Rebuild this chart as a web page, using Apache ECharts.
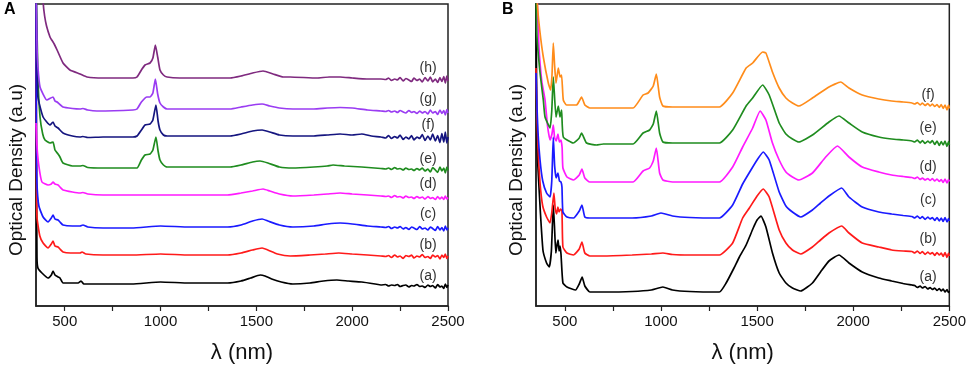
<!DOCTYPE html>
<html><head><meta charset="utf-8">
<script src="https://cdn.jsdelivr.net/npm/echarts@6/dist/echarts.min.js"></script>
<style>html,body{margin:0;padding:0;background:#fff}#c{width:969px;height:377px}</style>
</head><body><div id="c"></div>
<script>
// ---- tick labels ----
const wavelengthTicks = [500, 1000, 1500, 2000, 2500];
const wavelengthMinorTicks = [500, 750, 1000, 1250, 1500, 1750, 2000, 2250, 2500];

// ---- Panel A spectra: [wavelength nm, optical density (a.u., offset stacked)] ----
const A_a = [[350,330],[352,150],[355,49],[360,38],[381,33],[413,28],[430,31],[439,35],[449,31],[465,29],[475,28],[491,23],[540,23],[570,23],[585,25],[600,22],[700,22],[850,22],[1000,24],[1150,23],[1350,23],[1420,25],[1470,28],[1520,31],[1545,30],[1580,27],[1630,24],[1690,22],[1780,23],[1850,25],[1920,26],[1980,25],[2050,24],[2120,22],[2150,21],[2175,21.5],[2190,20],[2205,21],[2222,20.5],[2236,21.5],[2250,19.5],[2266,20.5],[2280,21],[2296,19],[2310,20.5],[2322,20],[2338,21.5],[2352,19.5],[2366,20],[2380,18.5],[2395,21],[2408,19.5],[2420,20.5],[2434,18],[2446,21.5],[2458,19],[2468,20],[2478,17.5],[2486,22],[2494,18.5],[2500,21]];
const A_b = [[350,330],[352,150],[355,89],[370,70],[387,63],[413,58],[430,62],[439,65],[449,60],[465,59],[475,57],[491,54],[530,53],[580,53],[590,54],[610,52],[700,51],[850,51],[1000,52],[1150,51],[1350,51],[1420,53],[1480,56],[1530,58],[1560,56],[1610,52],[1676,50],[1780,51],[1860,52],[1930,53],[2000,52],[2080,51],[2150,50],[2175,49.5],[2190,50.5],[2205,48.5],[2222,51],[2236,49],[2250,50],[2266,47.5],[2280,50.5],[2296,49.5],[2310,51],[2322,48],[2338,50],[2352,49],[2366,51.5],[2380,48.5],[2395,49.5],[2408,47.5],[2420,51],[2434,49],[2446,50.5],[2458,47],[2468,51],[2478,48.5],[2486,52],[2494,47.5],[2500,50]];
const A_c = [[350,330],[352,170],[355,123],[365,100],[387,89],[413,84],[430,88],[439,91],[449,87],[465,86],[475,84],[491,81],[540,80],[580,80],[595,81],[620,79],[700,78],[850,78],[1000,80],[1150,79],[1350,79],[1420,81],[1480,85],[1530,87],[1560,85],[1620,81],[1691,79],[1800,80],[1870,82],[1937,83],[2000,82],[2080,80],[2150,79],[2175,78.5],[2190,79.5],[2205,77.5],[2222,79],[2236,78],[2250,79.5],[2266,77],[2280,78.5],[2296,76.5],[2310,79],[2322,78],[2338,76.5],[2352,79.5],[2366,77],[2380,78],[2395,76],[2408,79],[2420,77.5],[2434,75.5],[2446,79.5],[2458,76],[2468,78.5],[2478,75],[2486,80],[2494,76],[2500,78]];
const A_d = [[350,183],[355,160],[365,140],[381,124],[413,121],[430,122],[439,124],[449,122],[465,121],[475,119],[491,116],[540,114],[580,113],[595,113.5],[620,112],[700,111],[850,111],[1000,111],[1150,111],[1350,111],[1420,113],[1480,115],[1535,117],[1570,115],[1620,112],[1691,110],[1800,111],[1870,112],[1937,113],[2000,112],[2080,111],[2150,110],[2175,109.5],[2190,110],[2205,108.5],[2222,110.5],[2236,109],[2250,109.5],[2266,108],[2280,110],[2296,108.5],[2310,109],[2322,107.5],[2338,109.5],[2352,108],[2366,109],[2380,107],[2395,109.5],[2408,107.5],[2420,108.5],[2434,106.5],[2446,109.5],[2458,107],[2468,109],[2478,106.5],[2486,110],[2494,107],[2500,108.5]];
const A_e = [[350,330],[360,230],[371,189],[385,172],[397,166],[423,163],[439,164],[449,156],[465,152],[475,149],[491,143],[540,140],[580,140],[595,140.5],[620,138.5],[700,138],[877,138],[900,146],[919,151],[945,152],[960,156],[976,169],[987,155],[997,146],[1015,141],[1034,139],[1100,139],[1363,139],[1420,141],[1480,144],[1519,145],[1560,143],[1620,139],[1691,138],[1800,139],[1870,140],[1900,141],[1960,140],[2050,139],[2150,137.5],[2175,137],[2190,138],[2205,136.5],[2222,138.5],[2236,137],[2250,137.5],[2266,136],[2280,138],[2296,136.5],[2310,137],[2322,135.5],[2338,137.5],[2352,136],[2366,138],[2380,135],[2395,137],[2408,134],[2420,138.5],[2434,136],[2446,133.5],[2458,139],[2468,135],[2478,138],[2486,133],[2494,139],[2500,135.5]];
const A_f = [[350,330],[355,250],[360,209],[387,189],[423,181],[439,184],[449,180],[465,178],[491,173],[540,170],[580,169],[595,169.5],[620,168.5],[700,169],[856,169],[877,170],[900,176],[919,181],[945,182],[960,186],[976,201],[987,185],[997,176],[1015,171],[1034,170],[1100,170],[1363,170],[1420,172],[1480,175],[1530,176],[1570,174],[1620,171],[1691,170],[1800,170],[1870,171],[1937,172],[2000,171],[2050,172],[2100,170],[2150,169],[2175,168],[2190,170.5],[2205,167.5],[2222,169.5],[2236,168],[2250,171],[2266,166.5],[2280,169],[2296,167],[2310,170.5],[2322,166],[2338,169],[2352,167.5],[2366,171.5],[2380,165.5],[2395,170],[2408,166],[2420,172],[2434,165],[2446,170.5],[2458,163.5],[2468,172.5],[2478,164],[2486,174],[2494,163],[2500,169]];
const A_g = [[350,330],[355,260],[360,239],[371,219],[407,206],[439,209],[449,205],[460,204],[491,199],[540,197.5],[580,197],[595,197.5],[620,196],[668,195],[856,196],[877,197],[900,204],[929,209],[945,209],[960,213],[973,227],[985,212],[997,203],[1015,199],[1034,197],[1100,197],[1363,197],[1420,199],[1480,201],[1530,202],[1570,200],[1620,198],[1691,197],[1800,197],[1870,198],[1937,198.5],[2000,198],[2080,196],[2150,195],[2175,194.5],[2190,195.5],[2205,194],[2222,195],[2236,193.5],[2250,195.5],[2266,194],[2280,193],[2296,195.5],[2310,193.5],[2322,194.5],[2338,192.5],[2352,195],[2366,193],[2380,194.5],[2395,192],[2408,196],[2420,193],[2434,194.5],[2446,191.5],[2458,196],[2468,192.5],[2478,195.5],[2486,191],[2494,196.5],[2500,193]];
const A_h = [[380,340],[388,302],[395,290],[405,280],[423,269],[432,266],[439,264],[445,262],[460,256],[491,243],[527,236],[580,232],[616,229],[700,228],[856,228],[877,229],[900,236],[919,241],[945,243],[960,248],[973,261],[985,249],[997,236],[1015,231],[1034,229],[1100,228],[1363,228],[1420,230],[1480,233],[1535,235],[1587,232],[1640,229],[1676,229],[1816,228],[1880,229],[1937,229],[2000,228],[2077,227],[2150,227],[2175,226.5],[2190,228],[2205,225.5],[2222,227],[2236,226],[2250,228.5],[2266,225],[2280,227.5],[2296,226],[2310,224.5],[2322,228],[2338,225.5],[2352,227],[2366,224],[2380,228.5],[2395,225],[2408,229],[2420,224],[2434,227],[2446,223.5],[2458,228.5],[2468,224.5],[2478,229.5],[2486,223],[2494,230],[2500,225]];

// ---- Panel B spectra ----
const B_a = [[350,330],[352,250],[355,170],[360,139],[386,56],[405,43],[419,39],[430,55],[440,101],[446,80],[453,53],[460,62],[465,66],[470,55],[475,60],[480,52],[490,23],[511,19],[556,16],[575,22],[590,29],[604,20],[630,14],[700,14],[850,14.5],[950,16],[1010,19],[1060,16],[1150,14.5],[1304,14],[1339,23],[1380,38],[1408,49],[1443,61],[1480,78],[1500,86],[1520,90],[1546,79],[1580,53],[1615,33],[1650,23],[1684,18],[1727,15],[1788,23],[1830,34],[1874,45],[1926,51],[1978,43],[2047,34],[2133,28],[2200,25],[2260,22.5],[2306,21],[2320,20.5],[2334,18.5],[2348,20],[2360,18],[2374,19.5],[2388,17],[2400,18.5],[2412,16.5],[2424,18],[2436,15.5],[2448,17.5],[2458,15],[2468,17],[2478,14],[2488,16.5],[2496,13.5],[2500,15]];
const B_b = [[350,238],[355,190],[360,160],[371,123],[385,100],[405,89],[423,83],[433,95],[443,113],[450,97],[457,92],[464,99],[470,94],[478,97],[485,95],[490,59],[511,53],[545,51],[575,57],[589,64],[604,53],[630,50],[700,50],[850,51],[950,52],[1010,53],[1060,51.5],[1150,51],[1304,51],[1373,63],[1425,88],[1460,98],[1500,110],[1532,117],[1563,109],[1615,76],[1650,63],[1684,56],[1727,52],[1788,59],[1830,66],[1874,73],[1940,80],[1978,73],[2047,63],[2133,59],[2200,56],[2260,55],[2306,54.5],[2320,53],[2334,55],[2348,52.5],[2360,54.5],[2374,51.5],[2388,54],[2400,52],[2412,53.5],[2424,50.5],[2436,53.5],[2448,51],[2458,53],[2468,49.5],[2478,53.5],[2488,48.5],[2496,53],[2500,50]];
const B_c = [[350,233],[355,200],[360,175],[371,146],[385,125],[405,113],[423,109],[432,125],[440,169],[447,140],[455,128],[464,133],[472,125],[480,124],[485,119],[490,94],[511,89],[545,88],[575,95],[589,101],[604,89],[630,88],[700,88],[850,88],[950,90],[1000,93],[1060,90],[1150,88.5],[1304,88],[1373,101],[1425,122],[1468,136],[1500,146],[1532,154],[1563,146],[1615,114],[1650,100],[1684,94],[1727,89],[1788,96],[1830,103],[1874,110],[1940,118],[1978,109],[2047,99],[2133,94],[2200,92],[2260,90.5],[2306,89.5],[2320,88],[2334,90],[2348,87.5],[2360,89.5],[2374,86.5],[2388,89],[2400,87],[2412,88.5],[2424,85.5],[2436,88.5],[2448,85],[2458,88],[2468,84.5],[2478,88.5],[2488,84],[2496,87.5],[2500,85]];
const B_d = [[350,330],[357,302],[365,260],[380,225],[397,206],[410,180],[423,166],[433,172],[440,181],[447,168],[455,165],[464,172],[472,164],[480,166],[486,158],[490,138],[511,129],[545,126],[575,131],[589,137],[604,128],[630,124],[700,124],[855,124],[907,135],[941,138],[960,145],[976,158],[993,133],[1010,126],[1060,124],[1304,124],[1373,139],[1425,159],[1477,178],[1516,195],[1546,186],[1580,163],[1615,146],[1650,134],[1684,129],[1718,126],[1788,133],[1857,149],[1918,160],[1978,149],[2047,139],[2133,134],[2200,131],[2260,129.5],[2306,128.5],[2320,127.5],[2334,129],[2348,126.5],[2360,128],[2374,126],[2388,127.5],[2400,125.5],[2412,127.5],[2424,125],[2436,127],[2448,124.5],[2458,126.5],[2468,123.5],[2478,127],[2488,123],[2496,126.5],[2500,124.5]];
const B_e = [[350,330],[354,273],[370,235],[388,206],[397,189],[423,178],[432,195],[440,229],[454,189],[466,200],[475,189],[483,196],[492,169],[544,163],[575,168],[587,173],[613,163],[665,161],[700,162],[855,162],[907,173],[941,176],[960,182],[976,195],[993,173],[1010,164],[1060,163],[1304,163],[1373,176],[1443,200],[1477,208],[1529,221],[1563,211],[1615,183],[1650,172],[1684,167],[1718,164],[1788,171],[1874,184],[1926,190],[1978,183],[2047,174],[2133,169],[2200,167],[2260,166],[2306,165],[2320,164],[2334,166],[2348,163],[2360,165.5],[2374,162.5],[2388,165],[2400,163],[2412,165.5],[2424,161.5],[2436,165],[2448,160.5],[2458,164.5],[2468,161],[2478,165],[2488,159.5],[2496,164.5],[2500,161]];
const B_f = [[350,340],[357,302],[370,275],[388,249],[414,223],[426,216],[433,230],[440,263],[447,240],[454,223],[466,238],[475,229],[483,231],[492,206],[509,201],[561,201],[575,205],[587,209],[604,201],[630,198],[700,198],[855,198],[907,211],[933,213],[960,220],[976,232],[993,209],[1010,200],[1060,199],[1304,199],[1373,213],[1443,238],[1477,243],[1529,254],[1546,253],[1580,234],[1615,218],[1650,208],[1684,203],[1718,200],[1788,208],[1874,219],[1935,224],[1978,218],[2047,211],[2133,207],[2200,205],[2260,204],[2306,203],[2320,202],[2334,203.5],[2348,201],[2360,203],[2374,200.5],[2388,202.5],[2400,200],[2412,202],[2424,199.5],[2436,201.5],[2448,198.5],[2458,201.5],[2468,197.5],[2478,201],[2488,196],[2496,201],[2500,197.5]];

// ---- curve names ----
const namesA = ['(a)','(b)','(c)','(d)','(e)','(f)','(g)','(h)'];
const namesB = ['(a)','(b)','(c)','(d)','(e)','(f)'];
const seriesA = [A_a, A_b, A_c, A_d, A_e, A_f, A_g, A_h];
const seriesB = [B_a, B_b, B_c, B_d, B_e, B_f];
// label anchor heights (same units as the data)
const labelYA = [30, 61, 92, 122, 147, 181, 207, 238];
const labelYB = [29, 67, 106, 139, 178, 211];

const colorsA = ['#000000','#ff1a1a','#1a1aff','#ff1aff','#1f8c1f','#15157f','#9a3cf2','#7f2a7f'];
const colorsB = ['#000000','#ff1a1a','#1a1aff','#ff1aff','#1f8c1f','#ff8c1a'];

const FONT = "'Liberation Sans Narrow','Liberation Sans',Arial,sans-serif";
const FONT2 = "'Liberation Sans',Arial,sans-serif";

function xAxis(gi) {
  return {
    type: 'value', gridIndex: gi, min: 350, max: 2500,
    name: 'λ (nm)', nameLocation: 'middle', nameGap: 36,
    nameTextStyle: { fontFamily: FONT2, fontSize: 22, color: '#111' },
    axisLine: { show: true, onZero: false, lineStyle: { color: '#222', width: 1.5 } },
    axisTick: { show: true, inside: false, length: 5, customValues: wavelengthMinorTicks, lineStyle: { color: '#222', width: 1.2 } },
    axisLabel: { customValues: wavelengthTicks, formatter: v => String(v), fontFamily: FONT, fontSize: 15, color: '#111', margin: 8 },
    splitLine: { show: false }
  };
}
function yAxis(gi) {
  return {
    type: 'value', gridIndex: gi, min: 0, max: 302,
    name: 'Optical Density (a.u)', nameLocation: 'middle', nameGap: 10, nameRotate: 90,
    nameTextStyle: { fontFamily: FONT2, fontSize: 19, color: '#111', padding: [0, 30, 0, 0] },
    axisLine: { show: true, lineStyle: { color: '#222', width: 1.5 } },
    axisTick: { show: false }, axisLabel: { show: false }, splitLine: { show: false }
  };
}
function mkSeries(arr, names, colors, labelY, gi, labelX) {
  return arr.map((d, i) => ({
    type: 'line', xAxisIndex: gi, yAxisIndex: gi, data: d, showSymbol: false,
    smooth: 0.15, clip: true, silent: true, animation: false,
    lineStyle: { color: colors[i], width: 1.7 },
    markPoint: {
      symbol: 'circle', symbolSize: 0, silent: true, animation: false,
      label: { show: true, position: 'inside', formatter: names[i], fontFamily: FONT2, fontSize: 14, color: '#333' },
      data: [{ coord: [labelX, labelY[i]] }]
    }
  }));
}

const chart = echarts.init(document.getElementById('c'), null, { renderer: 'canvas' });
chart.setOption({
  animation: false,
  backgroundColor: '#fff',
  grid: [
    { left: 36, top: 4, width: 412, height: 302, show: true, borderColor: '#222', borderWidth: 1.5, backgroundColor: 'transparent' },
    { left: 536, top: 4, width: 414, height: 302, show: true, borderColor: '#222', borderWidth: 1.5, backgroundColor: 'transparent' }
  ],
  xAxis: [xAxis(0), xAxis(1)],
  yAxis: [yAxis(0), yAxis(1)],
  graphic: [
    { type: 'text', left: 4, top: 2, style: { text: 'A', fontFamily: FONT2, fontWeight: 'bold', fontSize: 16, fill: '#000' } },
    { type: 'text', left: 502, top: 2, style: { text: 'B', fontFamily: FONT2, fontWeight: 'bold', fontSize: 16, fill: '#000' } }
  ],
  series: [].concat(mkSeries(seriesA, namesA, colorsA, labelYA, 0, 2396), mkSeries(seriesB, namesB, colorsB, labelYB, 1, 2390))
});
</script></body></html>
